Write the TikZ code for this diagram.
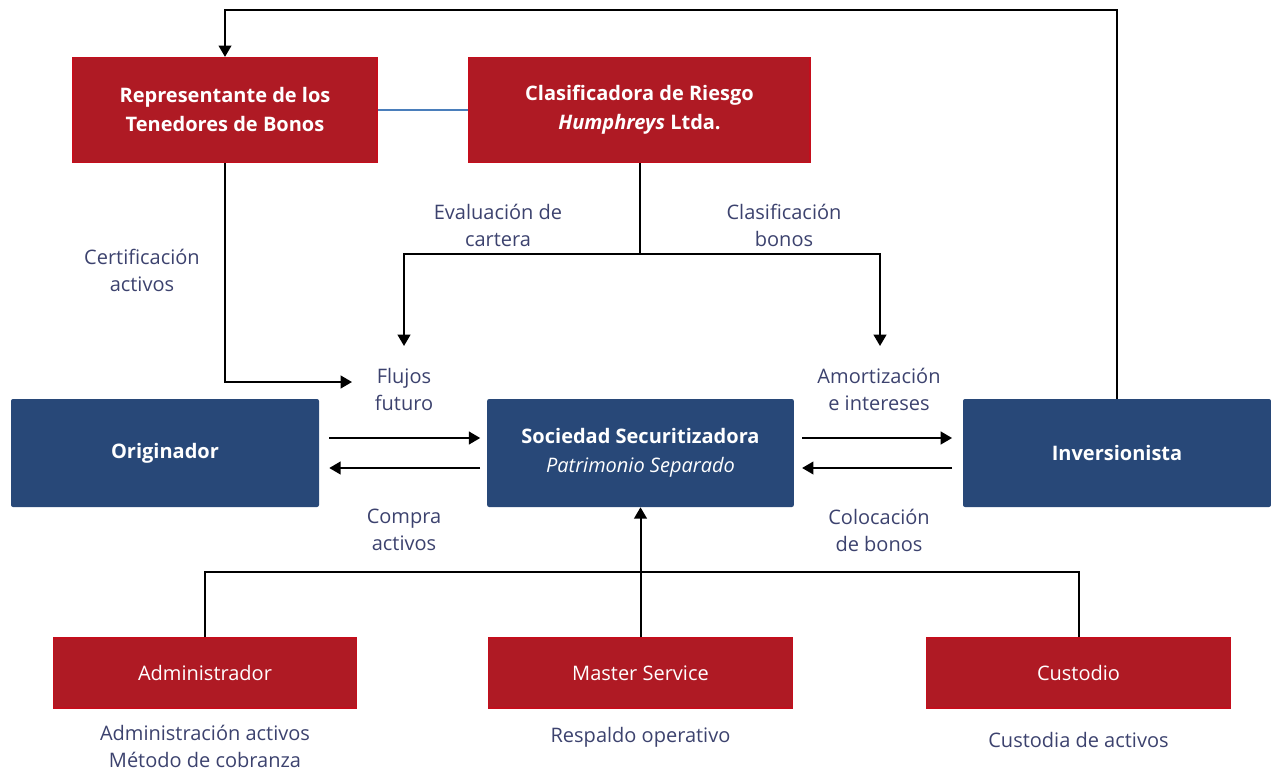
\documentclass[tikz,border=0pt]{standalone}
\usepackage{fontspec}
\setmainfont{Open Sans}
\usetikzlibrary{arrows.meta,positioning}
\definecolor{rojo}{RGB}{175,26,36}
\definecolor{rojoborde}{RGB}{196,14,28}
\definecolor{azul}{RGB}{40,72,120}
\definecolor{etiqtexto}{RGB}{60,66,110}
\definecolor{enlace}{RGB}{74,126,187}
\tikzset{
  entidad/.style={rectangle, fill=rojo, draw=rojoborde, line width=0.9pt, text=white, align=center,
                  font=\fontsize{15}{21.75}\selectfont\bfseries, minimum height=78.75pt, inner sep=2pt},
  parte/.style={rectangle, fill=azul, rounded corners=1.5pt, text=white, align=center,
                font=\fontsize{15}{21.75}\selectfont, minimum width=231pt, minimum height=81pt, inner sep=2pt},
  servicio/.style={rectangle, fill=rojo, draw=rojoborde, line width=0.9pt, text=white, align=center,
                   font=\fontsize{15}{20}\selectfont, minimum width=227.5pt, minimum height=52.5pt, inner sep=2pt},
  etiq/.style={font=\fontsize{15}{20.25}\selectfont, text=etiqtexto, align=center, inner sep=0pt},
  flecha/.style={-{Triangle[length=8.5pt,width=9.5pt]}, line width=1.5pt},
  linea/.style={line width=1.5pt}
}
\begin{document}
\begin{tikzpicture}[x=0.75pt,y=-0.75pt]
\useasboundingbox (0,0) rectangle (1271,774);

% entidades superiores
\node[entidad, minimum width=228pt] (rep) at (225,110) {Representante de los\\Tenedores de Bonos};
\node[entidad, minimum width=255.75pt] (clas) at (639.5,110) {Clasificadora de Riesgo\\\textit{Humphreys} Ltda.};
\draw[enlace, line width=1.2pt] (rep.east) -- (clas.west);

% partes principales
\node[parte] (orig) at (165,453) {\textbf{Originador}};
\node[parte, minimum width=230pt] (soc) at (640.5,453) {\textbf{Sociedad Securitizadora}\\\textit{Patrimonio Separado}};
\node[parte] (inv) at (1117,453) {\textbf{Inversionista}};

% servicios
\node[servicio] (admin) at (205,673) {Administrador};
\node[servicio] (master) at (640.5,673) {Master Service};
\node[servicio] (cust) at (1078.5,673) {Custodio};

% etiquetas
\node[etiq] (cert) at (142,270) {Certificación\\activos};
\node[etiq] (eval) at (498,225) {Evaluación de\\cartera};
\node[etiq] (clasb) at (784,225) {Clasificación\\bonos};
\node[etiq] (flujos) at (404,389) {Flujos\\futuro};
\node[etiq] (amort) at (879,389) {Amortización\\e intereses};
\node[etiq] (compra) at (404,530) {Compra\\activos};
\node[etiq] (coloc) at (879,530) {Colocación\\de bonos};
\node[etiq] (admtxt) at (205,746) {Administración activos\\Método de cobranza};
\node[etiq] (resp) at (640.5,737) {Respaldo operativo};
\node[etiq] (custxt) at (1078.5,740) {Custodia de activos};

% puntos de paso
\coordinate (cima) at (0,10);
\coordinate (bifurc) at (639.5,254);
\coordinate (puntaC) at (352,382);
\coordinate (puntaE) at (404,346);
\coordinate (puntaB) at (880,346);
\coordinate (bus) at (640.5,572);

% conectores
\draw[flecha] (inv.north) -- (inv.north |- cima) -| (rep.north);
\draw[flecha] (rep.south) |- (puntaC);
\draw[linea] (clas.south) -- (bifurc);
\draw[flecha] (bifurc) -| (puntaE);
\draw[flecha] (bifurc) -| (puntaB);

\draw[flecha, shorten <=7.5pt, shorten >=5pt] ([yshift=11.25pt]orig.east) -- ([yshift=11.25pt]soc.west);
\draw[flecha, shorten <=5pt, shorten >=7.5pt] ([yshift=-11.25pt]soc.west) -- ([yshift=-11.25pt]orig.east);
\draw[flecha, shorten <=6pt, shorten >=8pt] ([yshift=11.25pt]soc.east) -- ([yshift=11.25pt]inv.west);
\draw[flecha, shorten <=8pt, shorten >=6pt] ([yshift=-11.25pt]inv.west) -- ([yshift=-11.25pt]soc.east);

\draw[linea] (admin.north) |- (bus) -| (cust.north);
\draw[flecha] (master.north) -- (soc.south);
\end{tikzpicture}
\end{document}
